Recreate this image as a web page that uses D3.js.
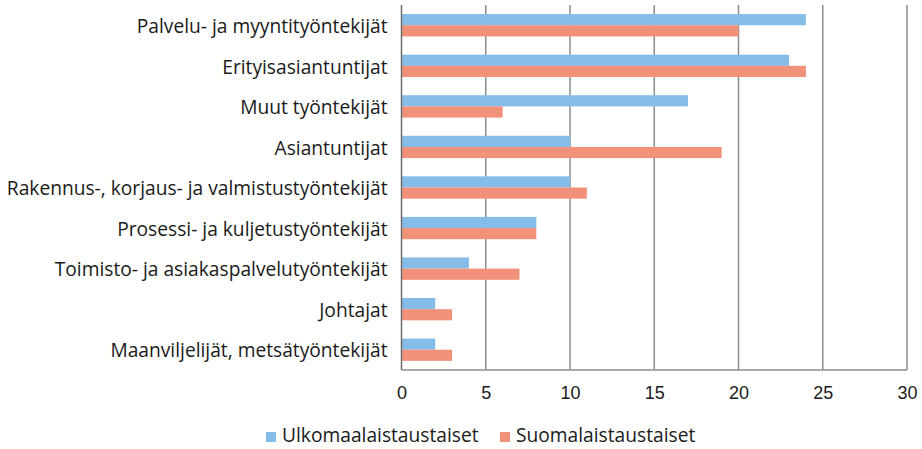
<!DOCTYPE html>
<html lang="fi">
<head>
<meta charset="UTF-8">
<title>Ammattiryhmät taustan mukaan</title>
<script src="https://d3js.org/d3.v7.min.js"></script>
<style>
    body { margin: 0; background: #fff; font-family: "Open Sans", "Noto Sans", sans-serif; }
    .tick text { font-size: 18px; fill: #1a1a1a; }
    .lbl { font-size: 19.2px; fill: #1a1a1a; }
</style>
</head>
<body>
<svg width="922" height="449"></svg>
<script>
// ammattiryhmät ylhäältä alas
const categories = [
    "Palvelu- ja myyntityöntekijät",
    "Erityisasiantuntijat",
    "Muut työntekijät",
    "Asiantuntijat",
    "Rakennus-, korjaus- ja valmistustyöntekijät",
    "Prosessi- ja kuljetustyöntekijät",
    "Toimisto- ja asiakaspalvelutyöntekijät",
    "Johtajat",
    "Maanviljelijät, metsätyöntekijät"
];
const ulkomaalaiset = [24, 23, 17, 10, 10, 8, 4, 2, 2];
const suomalaiset = [20, 24, 6, 19, 11, 8, 7, 3, 3];
const seriesNames = ["Ulkomaalaistaustaiset", "Suomalaistaustaiset"];
const xTicks = [0, 5, 10, 15, 20, 25, 30];

const colors = ["#85bce8", "#f2917a"];

const svg = d3.select("svg");
const margin = {top: 5, left: 401.5, right: 15, bottom: 79};
const width = 922 - margin.left - margin.right;
const height = 449 - margin.top - margin.bottom;

const g = svg.append("g").attr("transform", `translate(${margin.left},${margin.top})`);

const x = d3.scaleLinear().domain([0, 30]).range([0, width]);
const y = d3.scaleBand().domain(categories).range([0, height]).paddingInner(0.45).paddingOuter(0.225);
const ySub = d3.scaleBand().domain([0, 1]).range([0, y.bandwidth()]);

// pystysuorat apuviivat
g.selectAll(".grid")
    .data(xTicks.slice(1))
    .enter().append("line")
    .attr("x1", d => x(d)).attr("x2", d => x(d))
    .attr("y1", 0).attr("y2", height)
    .attr("stroke", "#8c8c8c").attr("stroke-width", 1.5);

const rows = categories.map((c, i) => ({c, v: [ulkomaalaiset[i], suomalaiset[i]]}));

const grp = g.selectAll(".grp")
    .data(rows)
    .enter().append("g")
    .attr("transform", d => `translate(0,${y(d.c)})`);

grp.selectAll("rect")
    .data(d => d.v.map((v, k) => ({v, k})))
    .enter().append("rect")
    .attr("x", 0)
    .attr("y", d => ySub(d.k))
    .attr("width", d => x(d.v))
    .attr("height", ySub.bandwidth())
    .attr("fill", d => colors[d.k]);

// y-akseli
g.append("line")
    .attr("x1", 0).attr("x2", 0).attr("y1", 0).attr("y2", height)
    .attr("stroke", "#6e6e6e").attr("stroke-width", 1.5);
// x-akselin viiva
g.append("line")
    .attr("x1", 0).attr("x2", width).attr("y1", height).attr("y2", height)
    .attr("stroke", "#8c8c8c").attr("stroke-width", 1.5);

// luokkien nimet
g.selectAll(".lbl")
    .data(categories)
    .enter().append("text")
    .attr("class", "lbl")
    .attr("x", -14)
    .attr("y", d => y(d) + y.bandwidth() / 2 + 1)
    .attr("dy", "0.35em")
    .attr("text-anchor", "end")
    .text(d => d);

// x-akselin arvot
const xAxis = g.append("g")
    .attr("transform", `translate(0,${height})`)
    .call(d3.axisBottom(x).tickValues(xTicks).tickSize(0).tickPadding(16));
xAxis.select(".domain").remove();

// selite
const legend = svg.append("g").attr("transform", "translate(0,436)");
const legX = [266, 500];
seriesNames.forEach((n, k) => {
    legend.append("rect")
        .attr("x", legX[k]).attr("y", -4)
        .attr("width", 10).attr("height", 10)
        .attr("fill", colors[k]);
    legend.append("text")
        .attr("class", "lbl")
        .attr("x", legX[k] + 16).attr("y", 0)
        .attr("dy", "0.32em")
        .text(n);
});
</script>
</body>
</html>
